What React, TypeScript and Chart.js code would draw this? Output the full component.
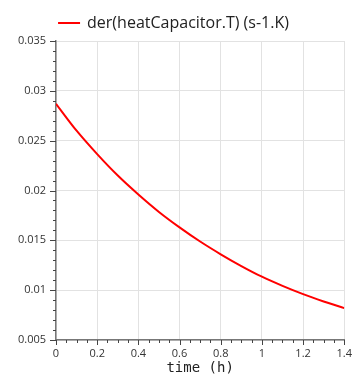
import React, { useEffect, useRef } from "react";
import { Chart, registerables } from "chart.js";

Chart.register(...registerables);

const timeH = [0, 0.1, 0.2, 0.3, 0.4, 0.5, 0.6, 0.7, 0.8, 0.9, 1.0, 1.1, 1.2, 1.3, 1.4];
const derT = [0.0287, 0.02600, 0.02365, 0.02150, 0.0196, 0.01785, 0.0163, 0.01488, 0.0136, 0.01242, 0.01135, 0.01043, 0.0096, 0.00887, 0.0082];
const seriesLabel = "der(heatCapacitor.T) (s-1.K)";
const xTitle = "time (h)";
const yTickLabels: Record<string, string> = {
  "0.005": "0.005", "0.01": "0.01", "0.015": "0.015", "0.02": "0.02",
  "0.025": "0.025", "0.03": "0.03", "0.035": "0.035",
};

const minorTicks = {
  id: "minorTicks",
  afterDraw(chart: any) {
    const ctx = chart.ctx;
    const xs = chart.scales.x;
    const ys = chart.scales.y;
    const area = chart.chartArea;
    ctx.save();
    ctx.strokeStyle = "#444";
    ctx.lineWidth = 1;
    ctx.beginPath();
    for (let i = 0; i <= 28; i++) {
      const v = i * 0.05;
      const px = Math.round(xs.getPixelForValue(v)) + 0.5;
      const len = i % 4 === 0 ? 5 : 3;
      ctx.moveTo(px, area.bottom);
      ctx.lineTo(px, area.bottom + len);
    }
    for (let i = 0; i <= 30; i++) {
      const v = 0.005 + i * 0.001;
      const py = Math.round(ys.getPixelForValue(v)) + 0.5;
      const len = i % 5 === 0 ? 6 : 3;
      ctx.moveTo(area.left, py);
      ctx.lineTo(area.left - len, py);
    }
    ctx.stroke();
    ctx.restore();
  },
};

export default function App() {
  const ref = useRef<HTMLCanvasElement>(null);
  useEffect(() => {
    if (!ref.current) return;
    const chart = new Chart(ref.current, {
      type: "line",
      data: {
        datasets: [
          {
            label: seriesLabel,
            data: timeH.map((t, i) => ({ x: t, y: derT[i] })),
            borderColor: "#ff0000",
            backgroundColor: "#ff0000",
            borderWidth: 2,
            pointRadius: 0,
            tension: 0.3,
          },
        ],
      },
      options: {
        animation: false,
        responsive: false,
        layout: { padding: { left: 0, right: 6, top: 2, bottom: 0 } },
        plugins: {
          legend: {
            display: true,
            labels: {
              font: { family: "Open Sans", size: 16 },
              color: "#222",
              boxWidth: 20,
              boxHeight: 0.01,
              padding: 13,
            },
          },
          tooltip: { enabled: false },
        },
        scales: {
          x: {
            type: "linear",
            min: 0,
            max: 1.4,
            ticks: {
              stepSize: 0.2,
              font: { family: "Open Sans", size: 11 },
              color: "#333",
              padding: 2,
              maxRotation: 0,
              callback: (v: any) => String(Math.round(Number(v) * 10) / 10),
            },
            grid: { color: "#e2e2e2", lineWidth: 1, drawTicks: true, tickLength: 5, tickColor: "rgba(0,0,0,0)" },
            border: { color: "#777", width: 1.5 },
            title: {
              display: true,
              text: xTitle,
              font: { family: "DejaVu Sans Mono", size: 14 },
              color: "#222",
              padding: { top: 0, bottom: -1 },
            },
            afterFit: (s: any) => { s.height = 36; },
          },
          y: {
            type: "linear",
            min: 0.005,
            max: 0.035,
            ticks: {
              stepSize: 0.005,
              font: { family: "Open Sans", size: 11 },
              color: "#333",
              padding: 4,
              callback: (v: any) => {
                const k = String(Math.round(Number(v) * 1000) / 1000);
                return yTickLabels[k] ?? k;
              },
            },
            grid: { color: "#e2e2e2", lineWidth: 1, drawTicks: true, tickLength: 6, tickColor: "rgba(0,0,0,0)" },
            border: { color: "#777", width: 1.5 },
            afterFit: (s: any) => { s.width = 56; },
          },
        },
      },
      plugins: [minorTicks],
    });
    return () => chart.destroy();
  }, []);
  return (
    <div style={{ position: "fixed", left: 0, top: 0, width: 354, height: 376, background: "#fff" }}>
      <canvas ref={ref} width={354} height={376} style={{ width: 354, height: 376 }} />
    </div>
  );
}
